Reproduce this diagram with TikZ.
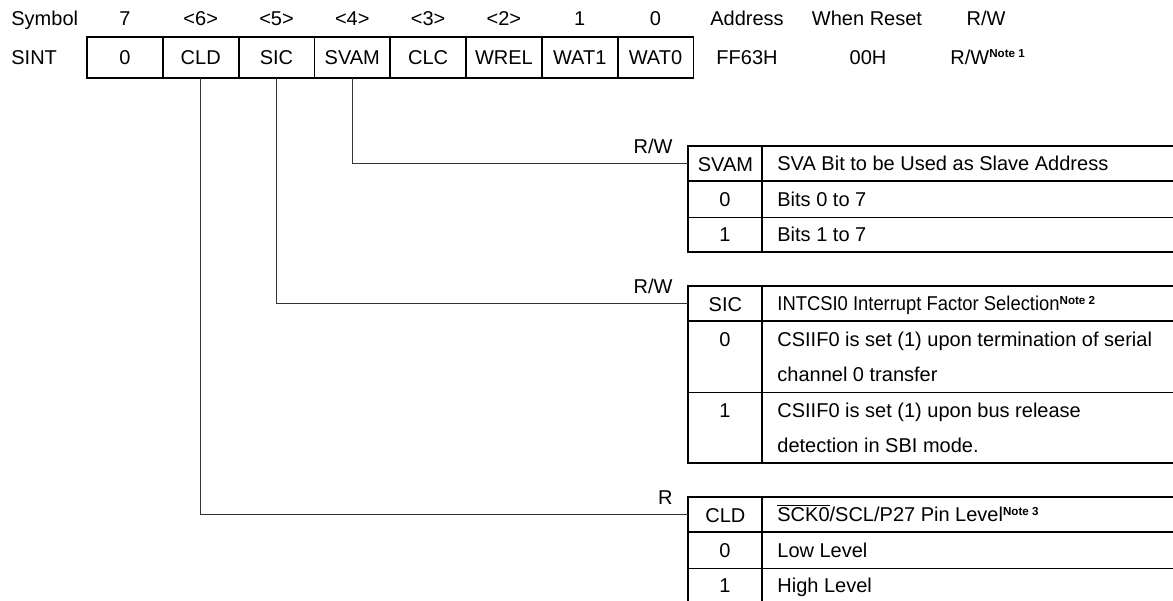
\documentclass[tikz,border=0pt]{standalone}
\usepackage{fontspec}
\setmainfont{Liberation Sans}
\usetikzlibrary{positioning}

\newcommand{\notetag}[1]{\raisebox{3.2pt}{\fontsize{5.8}{6}\selectfont\bfseries Note #1}}

\begin{document}
\begin{tikzpicture}[x=0.5pt, y=-0.5pt,
  every node/.style={font=\fontsize{10}{12}\selectfont, inner sep=0pt,
    text height=7.2pt, text depth=0pt},
  bitcell/.style={draw, line width=0.4pt, minimum width=37.5pt, minimum height=20pt},
  keycell/.style={minimum width=37pt, minimum height=17.5pt},
  desc/.style={anchor=west},
  frame/.style={line width=0.75pt},
  rule/.style={line width=0.4pt},
  link/.style={line width=0.5pt, black!80}]
  \useasboundingbox (0,0) rectangle (1173,600);
  \clip (0,0) rectangle (1173,600);
  % Register row
  \node[anchor=west] (sint) at (11,57) {SINT};
  \node[bitcell, anchor=north west] (b7) at (87,37) {0};
  \node[bitcell, right=0pt of b7] (b6) {CLD};
  \node[bitcell, right=0pt of b6] (b5) {SIC};
  \node[bitcell, right=0pt of b5] (b4) {SVAM};
  \node[bitcell, right=0pt of b4] (b3) {CLC};
  \node[bitcell, right=0pt of b3] (b2) {WREL};
  \node[bitcell, right=0pt of b2] (b1) {WAT1};
  \node[bitcell, right=0pt of b1] (b0) {WAT0};
  \draw[frame] (b7.north west) rectangle (b0.south east);
  % Heading row
  \node[anchor=west] (symhd) at (11,18) {Symbol};
  \node (n7) at (b7 |- symhd) {7};
  \node (n6) at (b6 |- symhd) {<6>};
  \node (n5) at (b5 |- symhd) {<5>};
  \node (n4) at (b4 |- symhd) {<4>};
  \node (n3) at (b3 |- symhd) {<3>};
  \node (n2) at (b2 |- symhd) {<2>};
  \node (n1) at (b1 |- symhd) {1};
  \node (n0) at (b0 |- symhd) {0};
  \node (addrhd) at (747,18) {Address};
  \node (rsthd) at (867,18) {When Reset};
  \node (rwhd) at (986,18) {R/W};
  \node (addr) at (747,57) {FF63H};
  \node (rst) at (868,57) {00H};
  \node[anchor=west] (rw) at (950,57) {R/W\notetag{1}};

  % SVAM table
  \node[keycell, anchor=north west] (svamkey) at (688,146) {SVAM};
  \node[desc] (svamdesc) at (777,163.5) {SVA Bit to be Used as Slave Address};
  \node (svam0) at (725,199) {0};
  \node[desc] (svam0d) at (777,199) {Bits 0 to 7};
  \node (svam1) at (725,234.5) {1};
  \node[desc] (svam1d) at (777,234.5) {Bits 1 to 7};
  \draw[frame] (1180,146) -- (688,146) -- (688,252) -- (1180,252);
  \draw[frame] (688,181) -- (1180,181);
  \draw[frame] (762,146) -- (762,252);
  \draw[rule] (688,217) -- (1180,217);
  \node[anchor=east] (svamrw) at (673,146) {R/W};
  \draw[link] (b4.south) |- (svamkey.west);

  % SIC table
  \node[keycell, anchor=north west] (sickey) at (688,286) {SIC};
  \node[desc] (sicdesc) at (777,303.5)
    {\scalebox{0.92}[1]{INTCSI0 Interrupt Factor Selection}\notetag{2}};
  \node (sic0) at (725,339) {0};
  \node[desc] (sic0a) at (777,339) {CSIIF0 is set (1) upon termination of serial};
  \node[desc] (sic0b) at (777,374) {channel 0 transfer};
  \node (sic1) at (725,410) {1};
  \node[desc] (sic1a) at (777,410) {CSIIF0 is set (1) upon bus release};
  \node[desc] (sic1b) at (777,445) {detection in SBI mode.};
  \draw[frame] (1180,286) -- (688,286) -- (688,463) -- (1180,463);
  \draw[frame] (688,321) -- (1180,321);
  \draw[frame] (762,286) -- (762,463);
  \draw[rule] (688,392) -- (1180,392);
  \node[anchor=east] (sicrw) at (673,286) {R/W};
  \draw[link] (b5.south) |- (sickey.west);

  % CLD table
  \node[keycell, anchor=north west] (cldkey) at (688,497) {CLD};
  \node[desc] (clddesc) at (777,514.5)
    {$\overline{\mbox{SCK0}}$/SCL/P27 Pin Level\notetag{3}};
  \node (cld0) at (725,550) {0};
  \node[desc] (cld0d) at (777,550) {Low Level};
  \node (cld1) at (725,585.5) {1};
  \node[desc] (cld1d) at (777,585.5) {High Level};
  \draw[frame] (1180,497) -- (688,497) -- (688,603) -- (1180,603);
  \draw[frame] (688,532) -- (1180,532);
  \draw[frame] (762,497) -- (762,603);
  \draw[rule] (688,568) -- (1180,568);
  \node[anchor=east] (cldr) at (673,497) {R};
  \draw[link] (b6.south) |- (cldkey.west);
\end{tikzpicture}
\end{document}
